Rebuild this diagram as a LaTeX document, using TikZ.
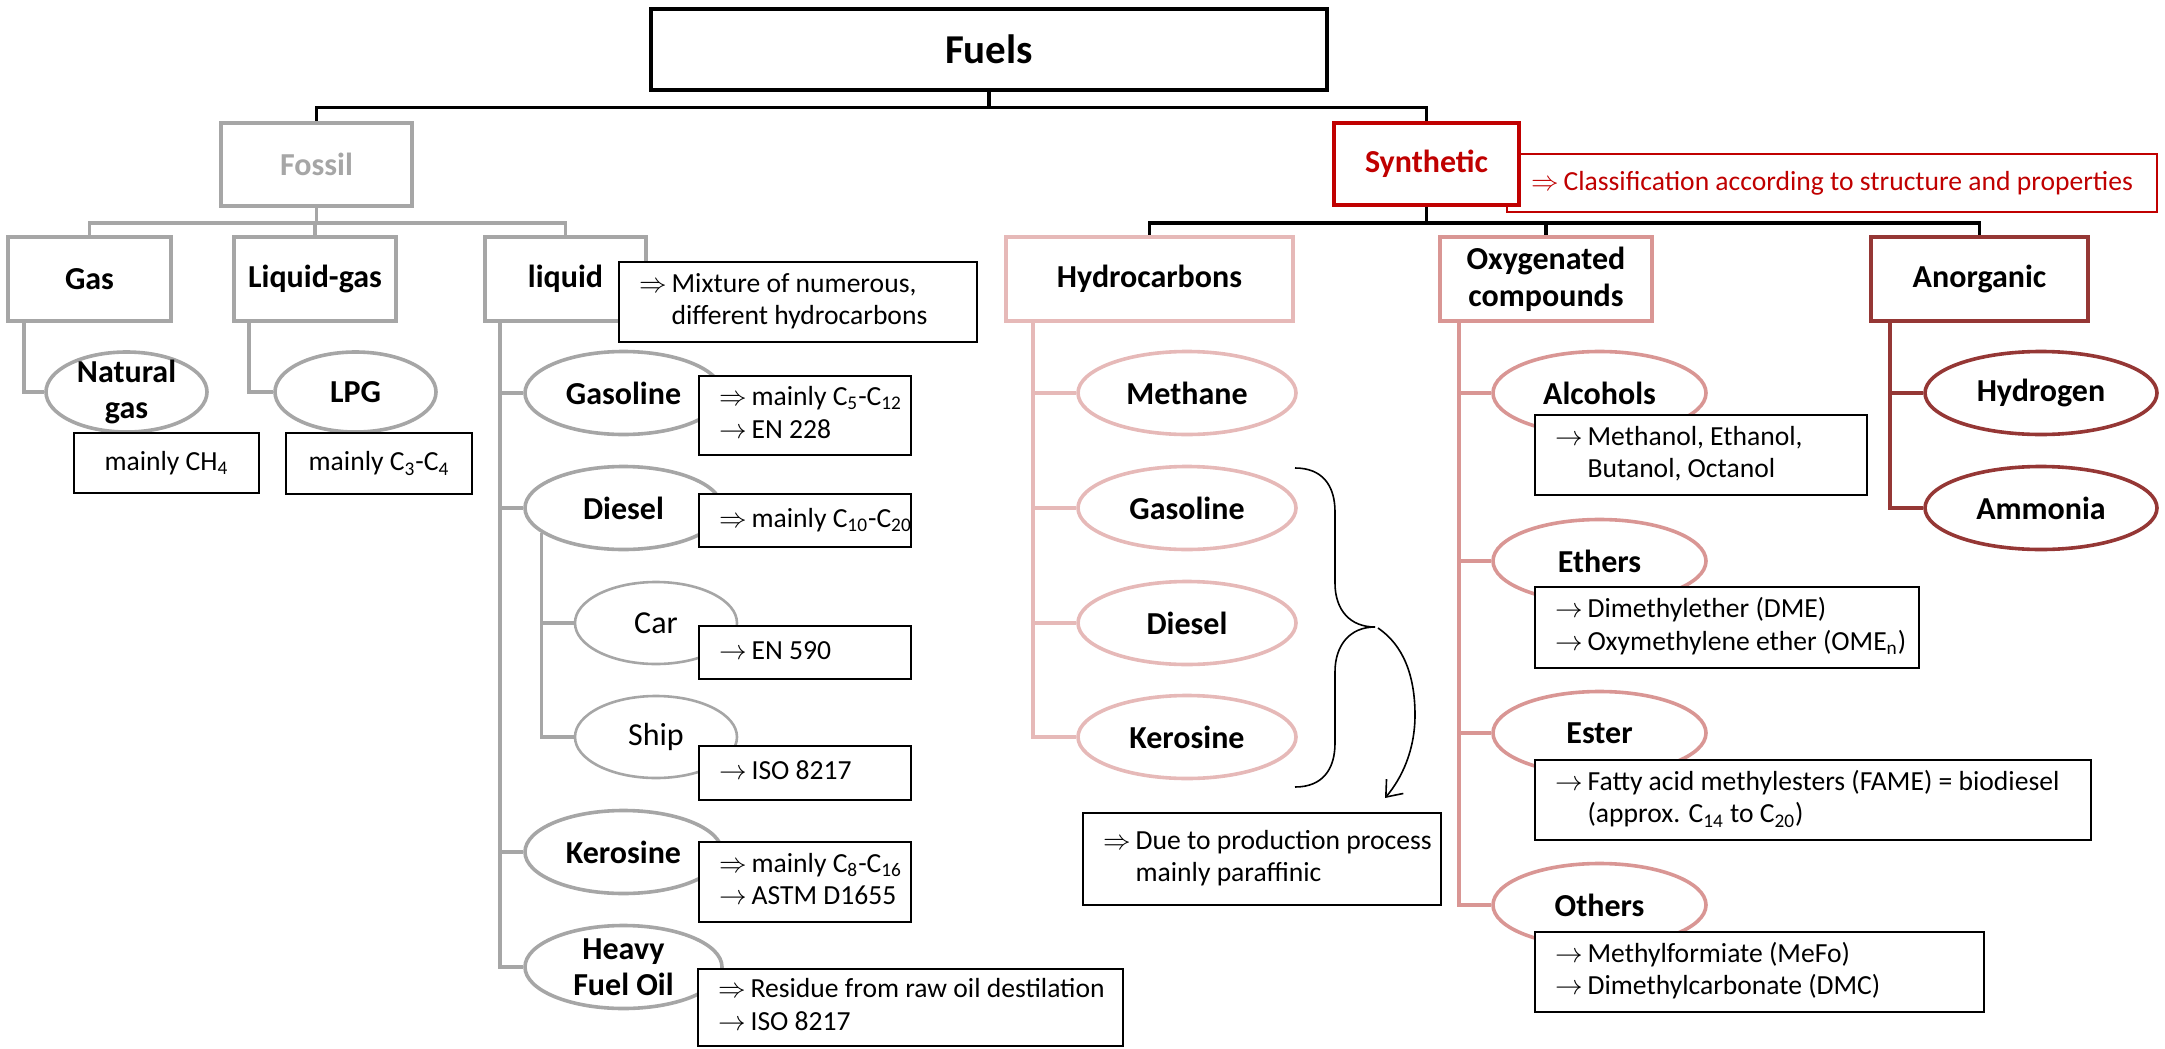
\RequirePackage{fix-cm}
\documentclass[tikz,border=0pt]{standalone}
\usepackage{fontspec}
\setmainfont{Carlito}
\usetikzlibrary{shapes.geometric,arrows.meta}
\definecolor{fosgray}{HTML}{A6A6A6}
\definecolor{synred}{HTML}{C00000}
\definecolor{hydpink}{HTML}{E6B9B8}
\definecolor{oxypink}{HTML}{D99694}
\definecolor{anodark}{HTML}{953735}
\newcommand\dra{$\Rightarrow$\kern2.5pt}
\newcommand\sra{$\rightarrow$\kern2.5pt}
\newcommand\myind{\phantom{\dra}}
\newcommand\mysind{\phantom{\sra}}
\newcommand\notetext[2]{\makebox[#1][l]{\begin{tabular}{@{}l@{}}#2\end{tabular}}}
\begin{document}
\begin{tikzpicture}[x=0.5pt,y=-0.5pt,
  box/.style={draw, rectangle, inner sep=0pt, line width=1.8pt, fill=white, align=center, font=\bfseries\fontsize{16}{18.5}\selectfont},
  ell/.style={draw, ellipse, inner sep=0pt, line width=1.8pt, fill=white},
  lbl/.style={inner sep=0pt, align=center, font=\bfseries\fontsize{16}{18}\selectfont},
  rlbl/.style={inner sep=0pt, font=\fontsize{16}{18}\selectfont},
  note/.style={draw, rectangle, inner sep=0pt, line width=1pt, fill=white, font=\fontsize{13.8}{16.4}\selectfont},
  conn/.style={line width=1.8pt},
  thin conn/.style={line width=1.6pt},
  bracestyle/.style={line width=0.8pt}
]
\useasboundingbox (0,0) rectangle (2165,1049);

% ---------- top level ----------
\node[box, draw=black, line width=1.6pt, minimum width=338pt, minimum height=40.5pt, font=\bfseries\fontsize{20.5}{24}\selectfont] (fuels) at (989,49.5) {Fuels};
\node[box, draw=fosgray, text=fosgray, minimum width=95.5pt, minimum height=41.5pt] (fossil) at (316.5,164.5) {Fossil};
\node[note, draw=synred, text=synred, minimum width=325pt, minimum height=29pt] (classif) at (1832,183) {\dra Classification according to structure and properties};
\node[box, draw=synred, text=synred, line width=2pt, minimum width=92.5pt, minimum height=41pt] (synth) at (1426.5,164) {Synthetic};

% ---------- fossil branch ----------
\node[box, draw=fosgray, minimum width=81.5pt, minimum height=42pt] (gas) at (89.5,279) {Gas};
\node[box, draw=fosgray, minimum width=81pt, minimum height=42pt] (lgas) at (315,279) {Liquid-gas};
\node[box, draw=fosgray, minimum width=80.5pt, minimum height=42pt] (liquid) at (565.5,279) {liquid};
\node[note, minimum width=179pt, minimum height=40pt] (mixn) at (798,302) {\notetext{159pt}{\dra Mixture of numerous,\\\myind different hydrocarbons}};

\node[ell, draw=fosgray, minimum width=80.5pt, minimum height=40pt] (natgas) at (126.5,392) {};
\node[lbl] (natgast) at (natgas) {Natural\\gas};
\node[note, minimum width=92.5pt, minimum height=30pt] (ch4n) at (166.5,463) {mainly CH\textsubscript{4}};
\node[ell, draw=fosgray, minimum width=80.5pt, minimum height=40pt] (lpg) at (355.5,392) {};
\node[lbl] (lpgt) at (lpg) {LPG};
\node[note, minimum width=93pt, minimum height=30.5pt] (c3n) at (379,463.5) {mainly C\textsubscript{3}-C\textsubscript{4}};

\node[ell, draw=fosgray, minimum width=98.5pt, minimum height=41.5pt] (fgas) at (623.5,393) {};
\node[lbl] (fgast) at (fgas) {Gasoline};
\node[ell, draw=fosgray, minimum width=98.5pt, minimum height=41.5pt] (fdie) at (623.5,508) {};
\node[lbl] (fdiet) at (fdie) {Diesel};
\node[ell, draw=fosgray, line width=1.3pt, minimum width=81pt, minimum height=41pt] (car) at (656,623) {};
\node[rlbl] (cart) at (car) {Car};
\node[ell, draw=fosgray, line width=1.3pt, minimum width=81pt, minimum height=41pt] (ship) at (656,737) {};
\node[rlbl] (shipt) at (ship) {Ship};
\node[ell, draw=fosgray, minimum width=98.5pt, minimum height=41.5pt] (fker) at (623.5,852) {};
\node[lbl] (fkert) at (fker) {Kerosine};
\node[ell, draw=fosgray, minimum width=98.5pt, minimum height=41.5pt] (fhfo) at (623.5,967) {};
\node[lbl] (fhfot) at (fhfo) {Heavy\\Fuel Oil};

\node[note, minimum width=106pt, minimum height=39.5pt] (fgasn) at (805,415.5) {\notetext{86pt}{\dra mainly C\textsubscript{5}-C\textsubscript{12}\\\sra EN 228}};
\node[note, minimum width=106pt, minimum height=26.5pt] (fdien) at (805,520.5) {\notetext{86pt}{\dra mainly C\textsubscript{10}-C\textsubscript{20}}};
\node[note, minimum width=106pt, minimum height=26.5pt] (carn) at (805,652.5) {\notetext{86pt}{\sra EN 590}};
\node[note, minimum width=106pt, minimum height=27pt] (shipn) at (805,773) {\notetext{86pt}{\sra ISO 8217}};
\node[note, minimum width=106pt, minimum height=40pt] (fkern) at (805,882) {\notetext{86pt}{\dra mainly C\textsubscript{8}-C\textsubscript{16}\\\sra ASTM D1655}};
\node[note, minimum width=212.5pt, minimum height=38.5pt] (fhfon) at (910.5,1007.5) {\notetext{192.5pt}{\dra Residue from raw oil destilation\\\sra ISO 8217}};

% ---------- synthetic branch ----------
\node[box, draw=hydpink, minimum width=143.5pt, minimum height=42pt] (hydro) at (1149.5,279) {Hydrocarbons};
\node[box, draw=oxypink, minimum width=106pt, minimum height=42pt] (oxy) at (1546,279) {Oxygenated\\compounds};
\node[box, draw=anodark, minimum width=108.5pt, minimum height=42pt] (anorg) at (1979.5,279) {Anorganic};

\node[ell, draw=hydpink, minimum width=109pt, minimum height=41.5pt] (methane) at (1187,393) {};
\node[lbl] (methanet) at (methane) {Methane};
\node[ell, draw=hydpink, minimum width=109pt, minimum height=41.5pt] (sgas) at (1187,508) {};
\node[lbl] (sgast) at (sgas) {Gasoline};
\node[ell, draw=hydpink, minimum width=109pt, minimum height=41.5pt] (sdie) at (1187,623) {};
\node[lbl] (sdiet) at (sdie) {Diesel};
\node[ell, draw=hydpink, minimum width=109pt, minimum height=41.5pt] (sker) at (1187,737) {};
\node[lbl] (skert) at (sker) {Kerosine};
\node[note, minimum width=179pt, minimum height=46pt] (duen) at (1262,859) {\notetext{159pt}{\dra Due to production process\\\myind mainly paraffinic}};

\node[ell, draw=oxypink, minimum width=106.5pt, minimum height=41.5pt] (alc) at (1599.5,393) {};
\node[lbl] (alct) at (alc) {Alcohols};
\node[ell, draw=oxypink, minimum width=106.5pt, minimum height=41.5pt] (eth) at (1599.5,561) {};
\node[lbl] (etht) at (eth) {Ethers};
\node[ell, draw=oxypink, minimum width=106.5pt, minimum height=41.5pt] (est) at (1599.5,733) {};
\node[lbl] (estt) at (est) {Ester};
\node[ell, draw=oxypink, minimum width=106.5pt, minimum height=41.5pt] (oth) at (1599.5,905) {};
\node[lbl] (otht) at (oth) {Others};

\node[note, minimum width=166pt, minimum height=40pt] (alcn) at (1701,455) {\notetext{146pt}{\sra Methanol, Ethanol,\\\mysind Butanol, Octanol}};
\node[note, minimum width=192pt, minimum height=40.5pt] (ethn) at (1727,627.5) {\notetext{172pt}{\sra Dimethylether (DME)\\\sra Oxymethylene ether (OME\textsubscript{n})}};
\node[note, minimum width=278pt, minimum height=40pt] (estn) at (1813,800) {\notetext{258pt}{\sra Fatty acid methylesters (FAME) = biodiesel\\\mysind (approx. C\textsubscript{14} to C\textsubscript{20})}};
\node[note, minimum width=224.5pt, minimum height=40pt] (othn) at (1759.5,972) {\notetext{204.5pt}{\sra Methylformiate (MeFo)\\\sra Dimethylcarbonate (DMC)}};

\node[ell, draw=anodark, minimum width=116pt, minimum height=41.5pt] (hydrogen) at (2041,393) {};
\node[lbl] (hydrogent) at (hydrogen) {Hydrogen};
\node[ell, draw=anodark, minimum width=116pt, minimum height=41.5pt] (ammonia) at (2041,508) {};
\node[lbl] (ammoniat) at (ammonia) {Ammonia};

% ---------- connectors ----------
\draw[conn] (fuels.south) -- ++(0,16) -| (fossil.north);
\draw[conn] (fuels.south) ++(0,16) -| (synth.north);

\draw[conn, fosgray] (fossil.south) -- ++(0,15) -| (gas.north);
\draw[conn, fosgray] (fossil.south) ++(0,15) -| (lgas.north);
\draw[conn, fosgray] (fossil.south) ++(0,15) -| (liquid.north);

\draw[conn, fosgray] (gas.south west) ++(18,0) |- (natgas.west);
\draw[conn, fosgray] (lgas.south west) ++(17,0) |- (lpg.west);
\foreach \n in {fgas,fdie,fker,fhfo}
  \draw[conn, fosgray] (liquid.south west) ++(17,0) |- (\n.west);
\foreach \n in {car,ship}
  \draw[thin conn, fosgray] (fdie.197) |- (\n.west);

\draw[conn] (synth.south) -- ++(0,16) -| (hydro.north);
\draw[conn] (synth.south) ++(0,16) -| (oxy.north);
\draw[conn] (synth.south) ++(0,16) -| (anorg.north);

\foreach \n in {methane,sgas,sdie,sker}
  \draw[conn, hydpink] (hydro.south west) ++(29,0) |- (\n.west);
\foreach \n in {alc,eth,est,oth}
  \draw[conn, oxypink] (oxy.south west) ++(21,0) |- (\n.west);
\foreach \n in {hydrogen,ammonia}
  \draw[conn, anodark] (anorg.south west) ++(21,0) |- (\n.west);

% ---------- brace and arrow ----------
\coordinate (btop) at (1295,468);
\coordinate (btip) at (1375,627);
\coordinate (bbot) at (1295,787);
\coordinate (atip) at (1385,798);
\draw[bracestyle] (btop) .. controls (1322,468) and (1335,485) .. (1335,512) -- (1335,583) .. controls (1335,610) and (1350,627) .. (btip);
\draw[bracestyle] (btip) .. controls (1350,627) and (1335,645) .. (1335,672) -- (1335,743) .. controls (1335,770) and (1322,787) .. (bbot);
\draw[bracestyle, -{Straight Barb[length=7pt,width=11pt]}] (1378,628) .. controls (1403,645) and (1415,675) .. (1415,715) .. controls (1415,750) and (1402,778) .. (atip);
\end{tikzpicture}
\end{document}
